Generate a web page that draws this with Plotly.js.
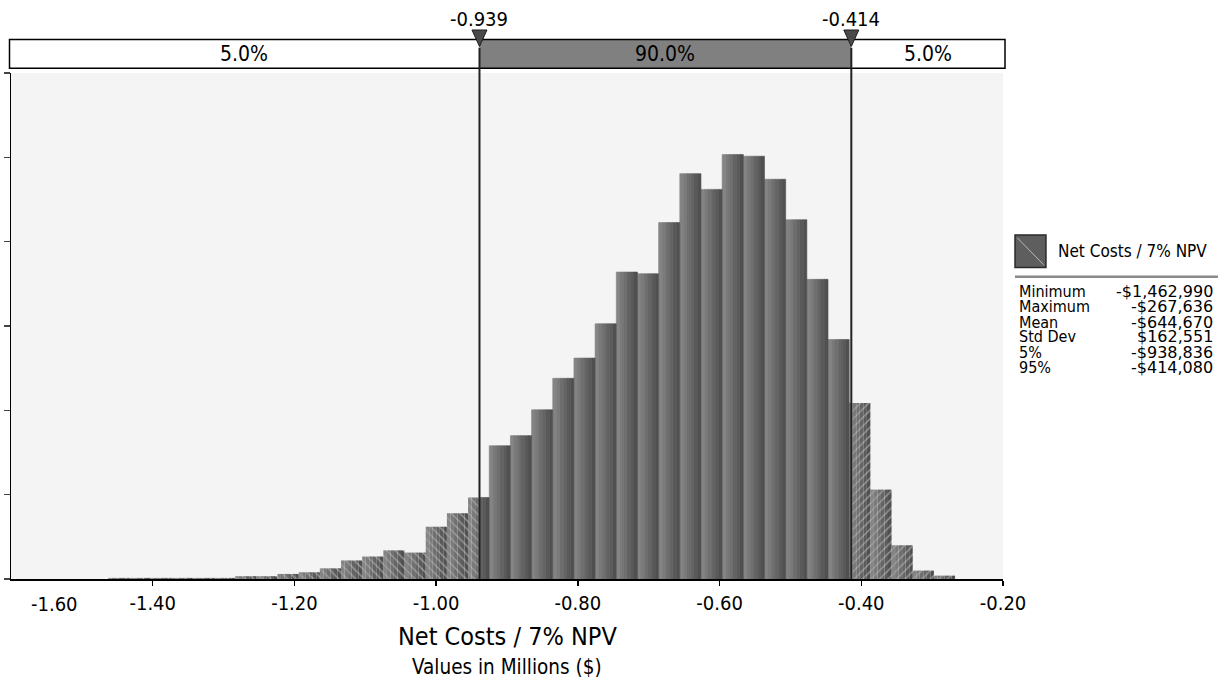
<!DOCTYPE html>
<html><head><meta charset="utf-8">
<script src="https://cdn.plot.ly/plotly-3.0.1.min.js"></script>
<style>html,body{margin:0;padding:0;background:#fff}#chart{width:1224px;height:681px}</style>
</head><body><div id="chart"></div>
<script>
// ---- data ----
const seriesName = 'Net Costs / 7% NPV';
const axisSubtitle = 'Values in Millions ($)';
const rangeMin = -1.462990;
const rangeMax = -0.267636;
const p5 = -0.938836;
const p95 = -0.414080;
const segLabels = ['5.0%', '90.0%', '5.0%'];
const binProb = [
  0.0002, 0.0002, 0.0002, 0.0002, 0.0002, 0.0002, 0.0005, 0.0005, 0.0009, 0.0012,
  0.0019, 0.0033, 0.0040, 0.0051, 0.0047, 0.0093, 0.0117, 0.0145, 0.0237, 0.0255,
  0.0301, 0.0357, 0.0393, 0.0454, 0.0546, 0.0543, 0.0634, 0.0721, 0.0693, 0.0755,
  0.0752, 0.0711, 0.0639, 0.0533, 0.0426, 0.0313, 0.0159, 0.0060, 0.0015, 0.0006
];
const xTickVals = [-1.6, -1.4, -1.2, -1.0, -0.8, -0.6, -0.4, -0.2];
const xTickText = ['-1.60', '-1.40', '-1.20', '-1.00', '-0.80', '-0.60', '-0.40', '-0.20'];
const yTickVals = [0, 0.015, 0.03, 0.045, 0.06, 0.075, 0.09];
const statLabels = ['Minimum', 'Maximum', 'Mean', 'Std Dev', '5%', '95%'];
const statValues = ['-$1,462,990', '-$267,636', '-$644,670', '$162,551', '-$938,836', '-$414,080'];

// ---- build ----
const FONT = '"DejaVu Sans Condensed", "DejaVu Sans", sans-serif';
const FONT_W = '"DejaVu Sans", sans-serif';
const X0 = xTickVals[0], X1 = xTickVals[xTickVals.length - 1];
const toPaper = v => (v - X0) / (X1 - X0);
const nBins = binProb.length;
const bw = (rangeMax - rangeMin) / nBins;
const shades = ['#848484', '#7a7a7a', '#6f6f6f', '#646464', '#5a5a5a', '#505050'];
const S = shades.length;
const segs = [
  {lo: -Infinity, hi: p5, pat: '\\'},
  {lo: p5, hi: p95, pat: ''},
  {lo: p95, hi: Infinity, pat: '/'}
];
const traces = [];
segs.forEach(seg => {
  for (let j = 0; j < S; j++) {
    const xs = [], ws = [], ys = [];
    for (let k = 0; k < nBins; k++) {
      const a = rangeMin + k * bw + j * bw / S, b = a + bw / S;
      const lo = Math.max(a, seg.lo), hi = Math.min(b, seg.hi);
      if (hi > lo) { xs.push((lo + hi) / 2); ws.push(hi - lo); ys.push(binProb[k]); }
    }
    if (!xs.length) continue;
    const marker = {color: shades[j], line: {width: seg.pat ? 0 : 0.6, color: shades[j]}};
    if (seg.pat) marker.pattern = {shape: seg.pat, fgcolor: '#9c9c9c', bgcolor: shades[j], size: 6, solidity: 0.22, fillmode: 'replace'};
    traces.push({type: 'bar', x: xs, y: ys, width: ws, marker: marker, hoverinfo: 'skip', showlegend: false});
  }
});

const boxL = -1.5 / 992, boxR = 1 + 2 / 992, boxB = 1.0093, boxT = 1.0662;
const triHW = 7.5 / 992, triTop = 1.085, triBot = 1.0524;
const shapes = [
  {type: 'rect', xref: 'paper', yref: 'paper', x0: boxL, x1: toPaper(p5), y0: boxB, y1: boxT, fillcolor: '#ffffff', line: {width: 0}},
  {type: 'rect', xref: 'paper', yref: 'paper', x0: toPaper(p5), x1: toPaper(p95), y0: boxB, y1: boxT, fillcolor: '#808080', line: {width: 0}},
  {type: 'rect', xref: 'paper', yref: 'paper', x0: toPaper(p95), x1: boxR, y0: boxB, y1: boxT, fillcolor: '#ffffff', line: {width: 0}},
  {type: 'rect', xref: 'paper', yref: 'paper', x0: boxL, x1: boxR, y0: boxB, y1: boxT, line: {color: '#000', width: 1.5}},
  {type: 'line', xref: 'paper', yref: 'paper', x0: toPaper(p5), x1: toPaper(p5), y0: 0, y1: 1.05, line: {color: '#222', width: 2}},
  {type: 'line', xref: 'paper', yref: 'paper', x0: toPaper(p95), x1: toPaper(p95), y0: 0, y1: 1.05, line: {color: '#222', width: 2}},
  // legend icon
  {type: 'rect', xref: 'paper', yref: 'paper', x0: 1.0121, x1: 1.0433, y0: 0.6156, y1: 0.6798, fillcolor: '#5e5e5e', line: {color: '#2a2a2a', width: 1.5}},
  {type: 'line', xref: 'paper', yref: 'paper', x0: 1.0145, y0: 0.674, x1: 1.041, y1: 0.621, line: {color: '#b8b8b8', width: 1}},
  {type: 'line', xref: 'paper', yref: 'paper', x0: 1.0121, x1: 1.2167, y0: 0.5975, y1: 0.5975, line: {color: '#8a8a8a', width: 2.5}}
];
[p5, p95].forEach(v => {
  const c = toPaper(v);
  shapes.push({type: 'path', xref: 'paper', yref: 'paper',
    path: 'M' + (c - triHW) + ',' + triTop + ' L' + (c + triHW) + ',' + triTop + ' L' + c + ',' + triBot + ' Z',
    fillcolor: '#4a4a4a', line: {color: '#1e1e1e', width: 1}});
});

const annotations = [];
const segMid = [(boxL + toPaper(p5)) / 2, (toPaper(p5) + toPaper(p95)) / 2, (toPaper(p95) + boxR) / 2];
segLabels.forEach((t, i) => annotations.push({x: segMid[i], y: 1.0375, xref: 'paper', yref: 'paper', text: t, showarrow: false, font: {family: FONT, size: 21, color: '#000'}, xanchor: 'center', yanchor: 'middle'}));
[p5, p95].forEach(v => annotations.push({x: toPaper(v), y: 1.1077, xref: 'paper', yref: 'paper', text: v.toFixed(3), showarrow: false, font: {family: FONT, size: 20, color: '#000'}, xanchor: 'center', yanchor: 'middle'}));
annotations.push({x: -1.538, y: -0.0494, xref: 'x', yref: 'paper', text: xTickText[0], showarrow: false, font: {family: FONT, size: 20, color: '#000'}, xanchor: 'center', yanchor: 'middle'});
annotations.push({x: 0.5, y: -0.1146, xref: 'paper', yref: 'paper', text: seriesName, showarrow: false, font: {family: FONT, size: 25, color: '#000'}, xanchor: 'center', yanchor: 'middle'});
annotations.push({x: 0.5, y: -0.1739, xref: 'paper', yref: 'paper', text: axisSubtitle, showarrow: false, font: {family: FONT, size: 20.5, color: '#000'}, xanchor: 'center', yanchor: 'middle'});
annotations.push({x: 1.0534, y: 0.6482, xref: 'paper', yref: 'paper', text: seriesName, showarrow: false, font: {family: FONT, size: 17, color: '#000'}, xanchor: 'left', yanchor: 'middle'});
const rowY = [0.5678, 0.5382, 0.5079, 0.4783, 0.4472, 0.4180];
statLabels.forEach((t, i) => {
  annotations.push({x: 1.0151, y: rowY[i], xref: 'paper', yref: 'paper', text: t, showarrow: false, font: {family: FONT, size: 16, color: '#000'}, xanchor: 'left', yanchor: 'middle', borderpad: 0});
  annotations.push({x: 1.2127, y: rowY[i], xref: 'paper', yref: 'paper', text: statValues[i], showarrow: false, font: {family: FONT_W, size: 16, color: '#000'}, xanchor: 'right', yanchor: 'middle', borderpad: 0});
});

const layout = {
  width: 1224, height: 681,
  margin: {l: 11, r: 221, t: 73, b: 102, pad: 0},
  paper_bgcolor: '#ffffff', plot_bgcolor: '#f4f4f4',
  barmode: 'overlay', showlegend: false, font: {family: FONT},
  xaxis: {
    range: [X0, X1], tickmode: 'array', tickvals: xTickVals.slice(1), ticktext: xTickText.slice(1),
    ticks: 'outside', ticklen: 5, tickwidth: 1.5, tickcolor: '#000',
    showline: true, linecolor: '#000', linewidth: 1.5, showgrid: false, zeroline: false,
    tickfont: {family: FONT, size: 20, color: '#000'}
  },
  yaxis: {
    range: [0, 0.09], tickmode: 'array', tickvals: yTickVals,
    ticks: 'outside', ticklen: 6, tickwidth: 1.5, tickcolor: '#444', showticklabels: false,
    showline: true, linecolor: '#000', linewidth: 1.5, showgrid: false, zeroline: false
  },
  shapes: shapes, annotations: annotations
};
Plotly.newPlot('chart', traces, layout, {staticPlot: true, displayModeBar: false});
</script>
</body></html>
